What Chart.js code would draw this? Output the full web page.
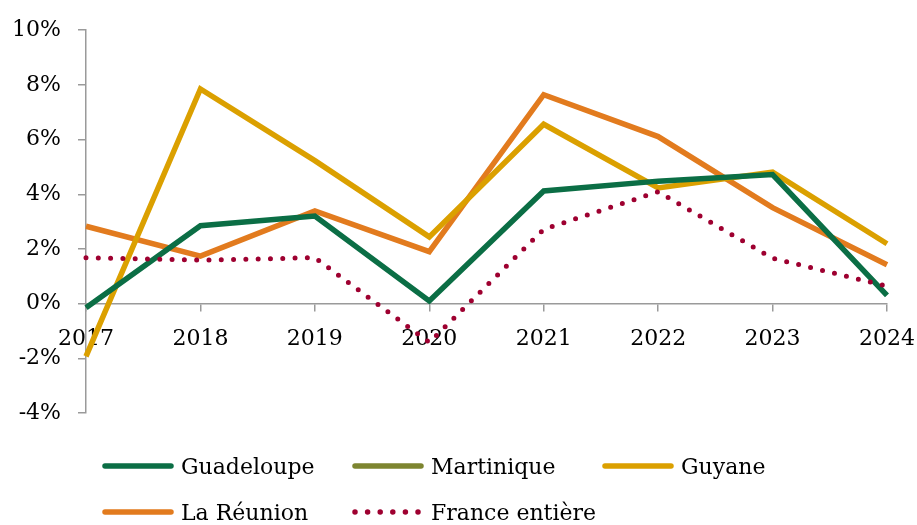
<!DOCTYPE html>
<html>
<head>
<meta charset="utf-8">
<script src="https://cdn.jsdelivr.net/npm/chart.js@4"></script>
<style>
  html, body { margin: 0; padding: 0; background: #fff; }
  #wrap { position: relative; width: 917px; height: 525px; }
  #chart { position: absolute; left: 0; top: 0; }
  #legend { position: absolute; left: 0; top: 0; width: 917px; height: 525px; pointer-events: none;
    font-family: "DejaVu Serif", serif; font-size: 22px; color: #000; }
  .item { position: absolute; display: flex; align-items: center; height: 30px; white-space: nowrap; }
  .item svg { margin-right: 7px; }
</style>
</head>
<body>
<div id="wrap">
  <canvas id="chart" width="917" height="525"></canvas>
  <div id="legend"></div>
</div>
<script>
// Data
const years = ['2017', '2018', '2019', '2020', '2021', '2022', '2023', '2024'];
const guadeloupe = [-0.15, 2.85, 3.2, 0.1, 4.12, 4.48, 4.72, 0.3];
const martinique = [null, null, null, null, null, null, null, null];
const guyane = [-1.93, 7.85, 5.23, 2.44, 6.56, 4.23, 4.81, 2.19];
const reunion = [2.83, 1.74, 3.39, 1.9, 7.64, 6.11, 3.51, 1.42];
const france = [1.68, 1.59, 1.68, -1.42, 2.72, 4.09, 1.66, 0.64];
const yTicks = [-4, -2, 0, 2, 4, 6, 8, 10];

const font = { family: 'DejaVu Serif', size: 22 };
const axisGrey = '#9a9a9a';

function lineSet(label, data, color, dotted) {
    return {
        label: label,
        data: data,
        borderColor: color,
        backgroundColor: color,
        borderWidth: dotted ? 5 : 5.5,
        borderDash: dotted ? [0, 12.3] : [],
        borderCapStyle: dotted ? 'round' : 'butt',
        borderJoinStyle: 'miter',
        pointRadius: 0,
        tension: 0,
        spanGaps: false,
        clip: false,
        dotted: dotted
    };
}

const datasets = [
    lineSet('Guadeloupe', guadeloupe, '#0b6e45', false),
    lineSet('Martinique', martinique, '#7d8530', false),
    lineSet('Guyane', guyane, '#dba000', false),
    lineSet('La Réunion', reunion, '#e27b1e', false),
    lineSet('France entière', france, '#9e0030', true)
];

// drawing order: France below, then others as in reference
const drawOrder = [datasets[4], datasets[1], datasets[0], datasets[2], datasets[3]];

new Chart(document.getElementById('chart'), {
    type: 'line',
    data: { labels: years, datasets: drawOrder },
    options: {
        responsive: false,
        animation: false,
        layout: { padding: { top: 27, right: 30, bottom: 112, left: 0 } },
        plugins: { legend: { display: false }, tooltip: { enabled: false } },
        scales: {
            x: {
                position: { y: 0 },
                offset: false,
                afterFit: scale => { scale.paddingLeft = 0; scale.paddingRight = 0; },
                border: { color: axisGrey, width: 1.5 },
                grid: { drawOnChartArea: false, color: axisGrey, lineWidth: 1.5, tickLength: 7 },
                ticks: { font: font, color: '#000', padding: 15, maxRotation: 0, autoSkip: false }
            },
            y: {
                min: -4,
                max: 10,
                afterFit: scale => { scale.width = 86; },
                afterBuildTicks: scale => { scale.ticks = yTicks.map(v => ({ value: v })); },
                border: { color: axisGrey, width: 1.5 },
                grid: { drawOnChartArea: false, color: axisGrey, lineWidth: 1.5, tickLength: 8 },
                ticks: { font: font, color: '#000', padding: 17, callback: v => v + '%' }
            }
        }
    }
});

// HTML legend, 3 columns x 2 rows
const legend = document.getElementById('legend');
const colX = [102, 352, 602];
const rowY = [451, 497];
datasets.forEach((ds, i) => {
    const div = document.createElement('div');
    div.className = 'item';
    div.style.left = colX[i % 3] + 'px';
    div.style.top = rowY[Math.floor(i / 3)] + 'px';
    const dash = ds.dotted ? 'stroke-dasharray="0 12.6"' : '';
    div.innerHTML = `<svg width="72" height="10"><line x1="3" y1="5" x2="69" y2="5" stroke="${ds.borderColor}"
        stroke-width="5.5" stroke-linecap="round" ${dash}/></svg><span>${ds.label}</span>`;
    legend.appendChild(div);
});
</script>
</body>
</html>
